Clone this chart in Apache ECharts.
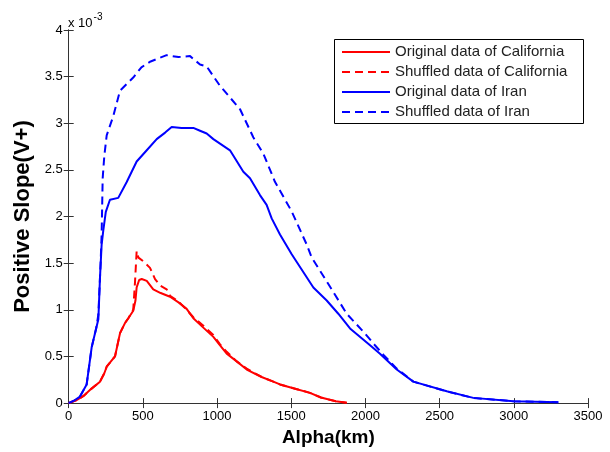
<!DOCTYPE html>
<html>
<head>
<meta charset="utf-8">
<script src="https://cdn.jsdelivr.net/npm/echarts@6/dist/echarts.min.js"></script>
<style>
html,body{margin:0;padding:0;background:#fff;}
#chart{width:610px;height:452px;}
</style>
</head>
<body>
<div id="chart"></div>
<script>
// values in units of 1e-3
const seriesNames = ["Original data of California", "Shuffled data of California", "Original data of Iran", "Shuffled data of Iran"];
const xTicks = [0, 500, 1000, 1500, 2000, 2500, 3000, 3500];
const yTicks = [0, 0.5, 1, 1.5, 2, 2.5, 3, 3.5, 4];

const caliOriginal = [[0,0],[50,0.03],[98,0.074],[150,0.15],[211,0.23],[240,0.32],[256,0.39],[312,0.5],[346,0.75],[380,0.86],[402,0.91],[435,0.99],[450,1.1],[458,1.24],[475,1.32],[492,1.33],[526,1.31],[570,1.22],[620,1.18],[683,1.14],[740,1.08],[795,1.01],[840,0.91],[900,0.82],[975,0.71],[1020,0.62],[1065,0.53],[1130,0.45],[1200,0.36],[1300,0.28],[1379,0.23],[1424,0.2],[1514,0.16],[1626,0.11],[1700,0.06],[1800,0.02],[1874,0.003]];
const caliShuffled = [[0,0],[50,0.03],[98,0.074],[150,0.15],[211,0.23],[240,0.32],[256,0.39],[312,0.5],[346,0.75],[380,0.86],[402,0.91],[435,1.0],[447,1.3],[458,1.63],[470,1.56],[503,1.52],[548,1.45],[582,1.33],[616,1.26],[660,1.22],[683,1.15],[740,1.09],[795,1.0],[840,0.92],[900,0.84],[975,0.73],[1020,0.63],[1065,0.55],[1130,0.45],[1200,0.37],[1300,0.28],[1379,0.23],[1424,0.2],[1514,0.16],[1626,0.11],[1700,0.06],[1800,0.02],[1874,0.003]];
const iranOriginal = [[0,0],[40,0.03],[76,0.07],[121,0.2],[155,0.6],[185,0.8],[200,0.9],[211,1.35],[222,1.7],[233,1.85],[250,2.05],[278,2.18],[334,2.2],[391,2.37],[458,2.59],[520,2.7],[593,2.83],[650,2.9],[694,2.96],[760,2.95],[840,2.95],[885,2.92],[930,2.89],[975,2.83],[1087,2.71],[1177,2.48],[1222,2.41],[1289,2.23],[1334,2.125],[1368,1.98],[1424,1.807],[1503,1.595],[1649,1.24],[1739,1.1],[1817,0.958],[1896,0.8],[2031,0.62],[2098,0.53],[2211,0.36],[2323,0.23],[2548,0.127],[2727,0.056],[2997,0.021],[3300,0.01]];
const iranShuffled = [[0,0],[40,0.03],[76,0.07],[121,0.2],[155,0.6],[185,0.8],[200,0.95],[215,1.5],[222,1.81],[229,2.41],[240,2.65],[256,2.87],[301,3.08],[346,3.35],[435,3.49],[490,3.6],[548,3.66],[660,3.73],[740,3.71],[818,3.72],[885,3.63],[930,3.61],[1020,3.4],[1042,3.36],[1155,3.15],[1244,2.85],[1312,2.674],[1390,2.373],[1503,2.055],[1604,1.7],[1638,1.56],[1750,1.276],[1874,0.958],[1997,0.746],[2064,0.62],[2120,0.52],[2211,0.37],[2323,0.23],[2548,0.125],[2727,0.055],[2997,0.02],[3300,0.01]];

const seriesData = [caliOriginal, caliShuffled, iranOriginal, iranShuffled];
const seriesColors = ["#ff0000", "#ff0000", "#0000ff", "#0000ff"];
const seriesDashed = [false, true, false, true];

const chart = echarts.init(document.getElementById('chart'), null, {renderer: 'canvas'});
const font = "'Liberation Sans', Arial, sans-serif";
const axisColor = "#333";

function baseAxis(extra) {
  return Object.assign({
    type: 'value',
    axisLine: {show: true, lineStyle: {color: axisColor, width: 1}},
    axisTick: {show: true, inside: true, length: 5, lineStyle: {color: axisColor}},
    splitLine: {show: false},
  }, extra);
}

const option = {
  backgroundColor: '#fff',
  animation: false,
  grid: {left: 68.7, right: 22, top: 30, bottom: 45, containLabel: false},
  legend: {
    orient: 'vertical',
    left: 341, top: 44.5, padding: 0,
    itemWidth: 48, itemHeight: 14, itemGap: 5,
    itemStyle: {opacity: 0, borderWidth: 0},
    textStyle: {fontFamily: font, fontSize: 15, color: '#222'},
    data: seriesNames
  },
  xAxis: [
    baseAxis({
      min: xTicks[0], max: xTicks[xTicks.length-1], interval: 500,
      position: 'bottom',
      name: 'Alpha(km)', nameLocation: 'middle', nameGap: 20,
      nameTextStyle: {fontFamily: font, fontSize: 19, fontWeight: 'bold', color: '#000'},
      axisLabel: {show: true, margin: 7, fontFamily: font, fontSize: 13, color: '#000',
        formatter: v => String(v)}
    }),
    baseAxis({
      min: xTicks[0], max: xTicks[xTicks.length-1], interval: 500,
      position: 'top', axisLabel: {show: false}
    })
  ],
  yAxis: [
    baseAxis({
      min: yTicks[0], max: yTicks[yTicks.length-1], interval: 0.5,
      position: 'left',
      name: 'Positive Slope(V+)', nameLocation: 'middle', nameGap: 28, nameRotate: 90,
      nameTextStyle: {fontFamily: font, fontSize: 22, fontWeight: 'bold', color: '#000'},
      axisLabel: {show: true, margin: 6, fontFamily: font, fontSize: 13, color: '#000',
        formatter: v => String(v)}
    }),
    baseAxis({
      min: yTicks[0], max: yTicks[yTicks.length-1], interval: 0.5,
      position: 'right', axisLabel: {show: false}
    })
  ],
  graphic: [
    {type: 'rect', left: 332, top: 37, shape: {width: 249, height: 84}, style: {fill: 'none', stroke: '#000', lineWidth: 1}, z: 100},
    {type: 'text', left: 68, top: 12, style: {
      text: '{a|x 10}{b|-3}',
      rich: {
        a: {fontFamily: font, fontSize: 13, fill: '#000', verticalAlign: 'bottom', height: 14},
        b: {fontFamily: font, fontSize: 10, fill: '#000', verticalAlign: 'top', padding: [0,0,8,1]}
      }
    }}
  ],
  series: seriesNames.map((name, i) => ({
    name: name,
    type: 'line',
    data: seriesData[i],
    showSymbol: false,
    symbol: 'none',
    smooth: false,
    xAxisIndex: 0, yAxisIndex: 0,
    color: seriesColors[i],
    lineStyle: {color: seriesColors[i], width: 2, type: seriesDashed[i] ? [8, 5] : 'solid'},
    z: seriesDashed[i] ? 3 : 2
  }))
};
chart.setOption(option);
</script>
</body>
</html>
